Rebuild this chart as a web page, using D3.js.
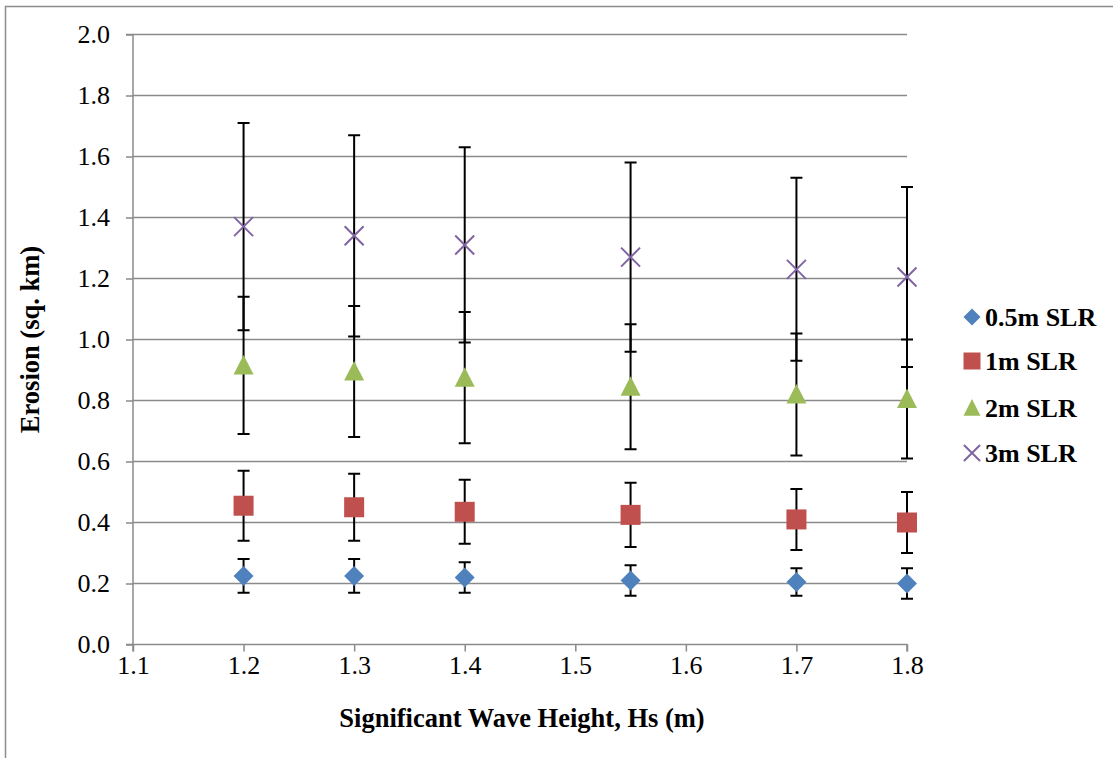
<!DOCTYPE html>
<html><head><meta charset="utf-8">
<script src="https://cdn.jsdelivr.net/npm/d3@7"></script>
<style>body{margin:0;background:#fff;} svg{display:block;} svg text{font-family:"Liberation Serif","Times New Roman",Times,"DejaVu Serif",serif !important;}</style>
</head><body>
<script>
const xValues = [1.2, 1.3, 1.4, 1.55, 1.7, 1.8];
const seriesNames = ["0.5m SLR", "1m SLR", "2m SLR", "3m SLR"];
const s05 = [0.225, 0.225, 0.22, 0.21, 0.205, 0.20];
const s05Err = [0.055, 0.055, 0.05, 0.05, 0.045, 0.05];
const s1 = [0.455, 0.45, 0.435, 0.425, 0.41, 0.40];
const s1Err = [0.115, 0.11, 0.105, 0.105, 0.10, 0.10];
const s2 = [0.915, 0.895, 0.875, 0.845, 0.82, 0.805];
const s2Err = [0.225, 0.215, 0.215, 0.205, 0.20, 0.195];
const s3 = [1.37, 1.34, 1.31, 1.27, 1.23, 1.205];
const s3Err = [0.34, 0.33, 0.32, 0.31, 0.30, 0.295];
const xTicks = [1.1, 1.2, 1.3, 1.4, 1.5, 1.6, 1.7, 1.8];
const yTicks = [0, 0.2, 0.4, 0.6, 0.8, 1.0, 1.2, 1.4, 1.6, 1.8, 2.0];

const W = 1113, H = 758;
const svg = d3.select("body").append("svg").attr("width", W).attr("height", H);

// outer border (left + top)
svg.append("path").attr("d", `M5.5,758 V6.5 H1113`).attr("fill","none").attr("stroke","#8c8c8c").attr("stroke-width",1.5);

const x = d3.scaleLinear().domain([1.1, 1.8]).range([133, 907]);
const y = d3.scaleLinear().domain([0, 2.0]).range([644.5, 34.5]);

// gridlines
svg.append("g").selectAll("line").data(yTicks.filter(d => d > 0)).join("line")
  .attr("x1", x(1.1)).attr("x2", x(1.8))
  .attr("y1", d => y(d)).attr("y2", d => y(d))
  .attr("stroke", "#8a8a8a").attr("stroke-width", 1.5);

// axes
const yAxis = svg.append("g").attr("transform", `translate(${x(1.1)},0)`)
  .call(d3.axisLeft(y).tickValues(yTicks).tickFormat(d3.format(".1f")).tickSize(7).tickPadding(16));
const xAxis = svg.append("g").attr("transform", `translate(0,${y(0)})`)
  .call(d3.axisBottom(x).tickValues(xTicks).tickFormat(d3.format(".1f")).tickSize(7).tickPadding(4));
[yAxis, xAxis].forEach(a => {
  a.attr("font-family", null);
  a.select(".domain").attr("stroke", "#8a8a8a").attr("stroke-width", 1.5);
  a.selectAll(".tick line").attr("stroke", "#8a8a8a").attr("stroke-width", 1.5);
  a.selectAll("text").attr("font-size", 26).attr("fill", "#000");
});
xAxis.select(".domain").attr("d", `M${x(1.1)},7V0H${x(1.8)}V7`);
yAxis.select(".domain").attr("d", `M-7,${y(2)}H0V${y(0)}H-7`);

// titles
svg.append("text").attr("x", 522).attr("y", 727).attr("text-anchor", "middle")
  .attr("font-weight", "bold").attr("font-size", 26.5)
  .text("Significant Wave Height, Hs (m)");
svg.append("text").attr("transform", `translate(39,${y(1.0)}) rotate(-90)`).attr("text-anchor", "middle")
  .attr("font-weight", "bold").attr("font-size", 26.5)
  .text("Erosion (sq. km)");

const series = [
  {name: seriesNames[0], vals: s05, err: s05Err, color: "#4F81BD", sym: "diamond"},
  {name: seriesNames[1], vals: s1, err: s1Err, color: "#C0504D", sym: "square"},
  {name: seriesNames[2], vals: s2, err: s2Err, color: "#9BBB59", sym: "triangle"},
  {name: seriesNames[3], vals: s3, err: s3Err, color: "#8064A2", sym: "x"}
];

function drawMarker(g, sym, color, s) {
  if (sym === "diamond") {
    g.append("path").attr("d", `M0,${-s}L${s},0L0,${s}L${-s},0Z`).attr("fill", color);
  } else if (sym === "square") {
    g.append("rect").attr("x", -s).attr("y", -s).attr("width", s*2).attr("height", s*2).attr("fill", color);
  } else if (sym === "triangle") {
    g.append("path").attr("d", `M0,${-s*1.05}L${s},${s*0.9}L${-s},${s*0.9}Z`).attr("fill", color);
  } else {
    const k = s*0.95;
    g.append("path").attr("d", `M${-k},${-k}L${k},${k}M${-k},${k}L${k},${-k}`).attr("stroke", color).attr("stroke-width", 2).attr("fill","none");
  }
}

// error bars first
const cap = 6;
series.forEach(se => {
  const g = svg.append("g");
  xValues.forEach((xv, i) => {
    const v = se.vals[i], e = se.err[i];
    const cx = x(xv);
    g.append("path")
      .attr("d", `M${cx},${y(v+e)}V${y(v-e)}M${cx-cap},${y(v+e)}H${cx+cap}M${cx-cap},${y(v-e)}H${cx+cap}`)
      .attr("stroke", "#000").attr("stroke-width", 2).attr("fill", "none");
  });
});
// markers
series.forEach(se => {
  xValues.forEach((xv, i) => {
    const g = svg.append("g").attr("transform", `translate(${x(xv)},${y(se.vals[i])})`);
    drawMarker(g, se.sym, se.color, 10);
  });
});

// legend
const legY = [317, 361, 408, 453];
series.forEach((se, i) => {
  const g = svg.append("g").attr("transform", `translate(972,${legY[i]})`);
  drawMarker(g, se.sym, se.color, 8.5);
  g.append("text").attr("x", 13).attr("y", 9).attr("font-weight", "bold")
    .attr("font-size", 26).text(se.name);
});
</script>
</body></html>
